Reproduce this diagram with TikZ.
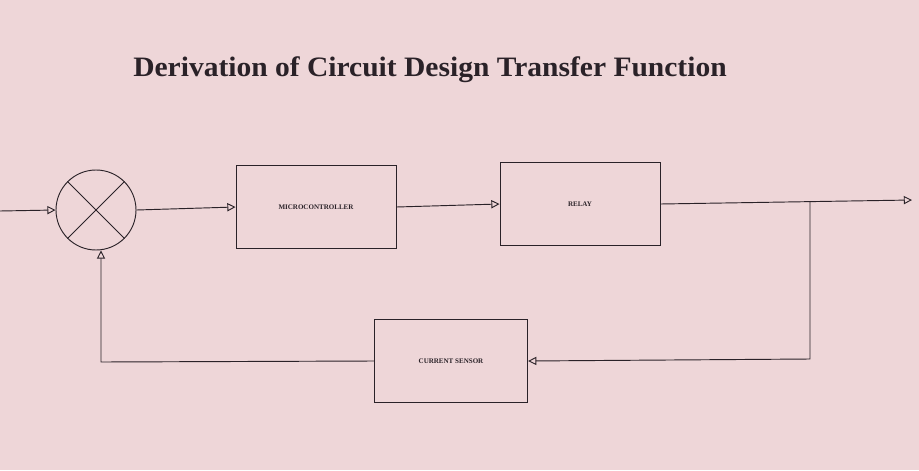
\documentclass[tikz,border=0pt]{standalone}
\usepackage{fontspec}
\setmainfont{Liberation Serif}
\usetikzlibrary{arrows.meta}
\definecolor{paper}{HTML}{EED6D8}
\definecolor{ink}{HTML}{2A2228}
\begin{document}
\begin{tikzpicture}[x=0.03cm,y=-0.03cm,
  blk/.style={draw=ink,line width=0.8pt,minimum width=4.8cm,minimum height=2.5cm,font=\fontsize{6}{7}\selectfont\bfseries,text=ink},
  wire/.style={draw=ink,line width=0.8pt},
  arr/.style={wire,-{Triangle[open,length=7pt,width=7pt]}}]
\fill[paper] (0,0) rectangle (919,470);
\useasboundingbox (0,0) rectangle (919,470);
\node[font=\fontsize{24}{28}\selectfont\bfseries,text=ink,xscale=1.05] (title) at (430,70) {Derivation of Circuit Design Transfer Function};
\node[draw=ink,line width=0.8pt,circle,minimum size=2.4cm,inner sep=0pt] (sum) at (96,210) {};
\draw[wire] (sum.north west) -- (sum.south east) (sum.north east) -- (sum.south west);
\node[blk,minimum width=4.8cm] (mc) at (316,207) {MICROCONTROLLER};
\node[blk] (relay) at (580,204) {RELAY};
\node[blk,minimum width=4.6cm] (cs) at (451,361) {CURRENT SENSOR};
\coordinate (in) at (0,211);
\coordinate (out) at (912,200);
\coordinate (br) at (810,201);
\coordinate (brd) at (810,359);
\coordinate (fb) at (101,362);
\draw[arr] (in) -- (sum.west);
\draw[arr] (sum.east) -- (mc.west);
\draw[arr] (mc.east) -- (relay.west);
\draw[arr] (relay.east) -- (out);
\draw[arr] (br) -- (brd) -- (cs.east);
\draw[arr] (cs.west) -- (fb) -- (fb |- sum.south);
\end{tikzpicture}
\end{document}
